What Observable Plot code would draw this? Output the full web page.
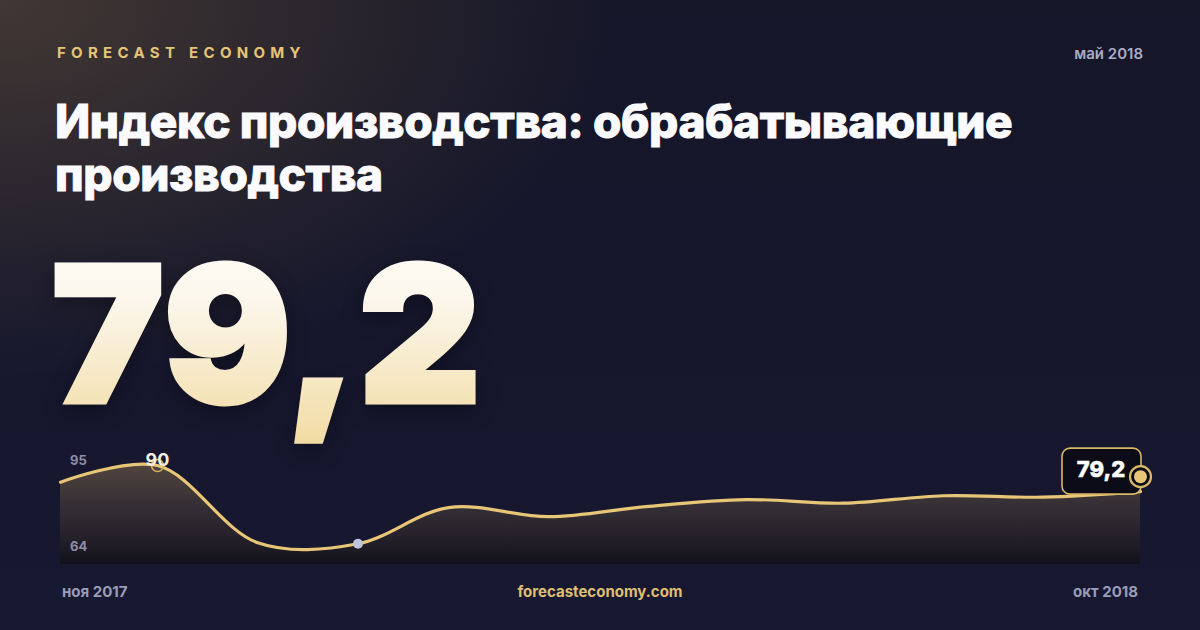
<!DOCTYPE html>
<html>
<head>
<meta charset="utf-8">
<script src="https://cdn.jsdelivr.net/npm/d3@7"></script>
<script src="https://cdn.jsdelivr.net/npm/@observablehq/plot@0.6"></script>
<style>
  html, body { margin: 0; padding: 0; }
  body {
    width: 1200px; height: 630px; overflow: hidden; position: relative;
    font-family: Inter, "Noto Sans", sans-serif;
    background:
      radial-gradient(ellipse 620px 380px at 0px 0px, rgba(110, 88, 62, 0.5), rgba(110, 88, 62, 0) 100%),
      linear-gradient(180deg, #151628 0%, #171831 100%);
  }
  .abs { position: absolute; white-space: nowrap; }
  #brand { left: 57px; top: 43px; color: #e6c477; font-size: 15px; font-weight: 700; letter-spacing: 5.3px; }
  #date { right: 57px; top: 44px; color: #a9acc6; font-size: 15px; font-weight: 600; }
  #title { left: 55px; top: 95px; color: #fbfbfd; font-size: 46px; font-weight: 800; line-height: 53px; white-space: normal; width: 1050px; letter-spacing: -0.4px; -webkit-text-stroke: 0.9px #fbfbfd; }
  #big { left: 0; top: 200px; overflow: visible; filter: drop-shadow(0 6px 10px rgba(0,0,0,0.35)); }
  .ylab { left: 70px; color: #8b8dad; font-size: 13px; font-weight: 700; z-index: 2; }
  #chart { position: absolute; left: 0; top: 440px; z-index: 1; }
  .foot { top: 582px; color: #9a9cb8; font-size: 15px; font-weight: 700; }
  #site { left: 0; width: 1200px; text-align: center; color: #dfbe73; }
</style>
</head>
<body>
<div id="brand" class="abs"></div>
<div id="date" class="abs"></div>
<div id="title" class="abs"></div>
<svg id="big" class="abs" width="620" height="260">
  <defs>
    <linearGradient id="bigGrad" x1="0" y1="0" x2="0" y2="1">
      <stop offset="0%" stop-color="#fefdfa"/>
      <stop offset="35%" stop-color="#fcf7ec"/>
      <stop offset="100%" stop-color="#f2dba2"/>
    </linearGradient>
  </defs>
  <text id="bigText" x="52" y="202" font-family="Inter, sans-serif" font-size="188" font-weight="900"
        letter-spacing="2" fill="url(#bigGrad)" stroke="url(#bigGrad)" stroke-width="5" stroke-linejoin="miter"></text>
</svg>
<div id="chart"></div>
<div id="ytop" class="abs ylab" style="top:452px"></div>
<div id="ybot" class="abs ylab" style="top:538px"></div>
<div id="fstart" class="abs foot" style="left:62px"></div>
<div id="site" class="abs foot"></div>
<div id="fend" class="abs foot" style="right:62px"></div>
<script>
// ---- data ----
const brand = "FORECAST ECONOMY";
const publishDate = "май 2018";
const title = "Индекс производства: обрабатывающие производства";
const headline = "79,2";
const months = ["2017-11", "2017-12", "2018-01", "2018-02", "2018-03", "2018-04",
                "2018-05", "2018-06", "2018-07", "2018-08", "2018-09", "2018-10"];
const values = [83.1, 90.0, 58.0, 57.6, 72.6, 68.8, 73.0, 75.9, 74.4, 77.5, 76.9, 79.2];
const yLabels = ["95", "64"];
const yDomain = [49, 95];
const startLabel = "ноя 2017";
const endLabel = "окт 2018";
const site = "forecasteconomy.com";

// ---- text ----
document.getElementById("brand").textContent = brand;
document.getElementById("date").textContent = publishDate;
document.getElementById("title").textContent = title;
document.getElementById("bigText").textContent = headline;
document.getElementById("ytop").textContent = yLabels[0];
document.getElementById("ybot").textContent = yLabels[1];
document.getElementById("fstart").textContent = startLabel;
document.getElementById("fend").textContent = endLabel;
document.getElementById("site").textContent = site;

// ---- chart ----
const parse = d3.utcParse("%Y-%m");
const data = months.map((m, i) => ({date: parse(m), value: values[i]}));
const maxD = data.reduce((a, b) => b.value > a.value ? b : a);
const minD = data.reduce((a, b) => b.value < a.value ? b : a);
const lastD = data[data.length - 1];
const fmt = v => String(v).replace(".", ",");
const gold = "#e8c677";

const defs = () => {
  const d = d3.create("svg:defs");
  const g = d.append("linearGradient").attr("id", "areaGrad")
    .attr("x1", 0).attr("y1", 0).attr("x2", 0).attr("y2", 1);
  g.append("stop").attr("offset", "0%").attr("stop-color", "#7a6448").attr("stop-opacity", 0.6);
  g.append("stop").attr("offset", "45%").attr("stop-color", "#4a3e38").attr("stop-opacity", 0.55);
  g.append("stop").attr("offset", "100%").attr("stop-color", "#100e14").attr("stop-opacity", 0.75);
  return d.node();
};

const labelBox = (index, scales) => {
  const px = scales.x(lastD.date), py = scales.y(lastD.value);
  const g = d3.create("svg:g");
  g.append("rect").attr("x", px - 78).attr("y", py - 43).attr("width", 79).attr("height", 46)
    .attr("rx", 8).attr("fill", "#0c0c19").attr("stroke", "#d9b766").attr("stroke-width", 1.6);
  g.append("text").attr("x", px - 39).attr("y", py - 14).attr("text-anchor", "middle")
    .attr("fill", "#ffffff").attr("font-size", 22).attr("font-weight", 800)
    .attr("stroke", "#ffffff").attr("stroke-width", 0.5)
    .attr("font-family", "Inter, sans-serif").text(fmt(lastD.value));
  return g.node();
};

const plot = Plot.plot({
  width: 1200,
  height: 130,
  marginLeft: 60,
  marginRight: 60,
  marginTop: 13,
  marginBottom: 6,
  style: {background: "transparent", overflow: "visible"},
  x: {type: "utc", domain: [data[0].date, lastD.date], axis: null},
  y: {domain: yDomain, axis: null},
  marks: [
    defs,
    Plot.areaY(data, {x: "date", y1: yDomain[0], y2: "value", curve: "catmull-rom", fill: "url(#areaGrad)"}),
    Plot.lineY(data, {x: "date", y: "value", curve: "catmull-rom", stroke: gold, strokeWidth: 3.2}),
    Plot.dot([maxD], {x: "date", y: "value", r: 6, stroke: "#d6b062", strokeWidth: 1.6, fill: "none"}),
    Plot.text([maxD], {x: "date", y: "value", text: d => String(d.value), dy: -5, fill: "#f4eedf",
      fontSize: 18, fontWeight: 700, fontFamily: "Inter, sans-serif"}),
    Plot.dot([minD], {x: "date", y: "value", r: 5, fill: "#bfc3dc"}),
    labelBox,
    Plot.dot([lastD], {x: "date", y: "value", dy: -15, r: 10.5, stroke: "#dcb966", strokeWidth: 2.2, fill: "#0c0c19"}),
    Plot.dot([lastD], {x: "date", y: "value", dy: -15, r: 6.5, fill: gold})
  ]
});
document.getElementById("chart").appendChild(plot);
</script>
</body>
</html>
